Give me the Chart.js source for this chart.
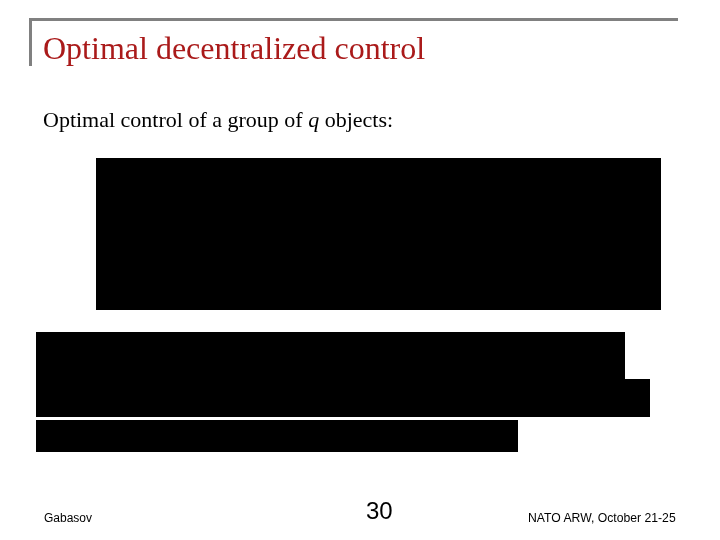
<!DOCTYPE html>
<html>
<head>
<meta charset="utf-8">
<script src="https://cdn.jsdelivr.net/npm/chart.js@4"></script>
<style>
  html, body { margin: 0; padding: 0; background: #ffffff; }
  #wrap { position: relative; width: 720px; height: 540px; overflow: hidden; }
  #c { position: absolute; left: 0; top: 0; }
  .t { position: absolute; white-space: nowrap; line-height: 1; }
  #title { left: 43px; top: 30px; font: 32px "Liberation Serif", "Times New Roman", serif; color: #aa1a1a; }
  #sub { left: 43px; top: 107px; font: 22px "Liberation Serif", "Times New Roman", serif; color: #000; }
  #left { left: 44px; top: 511px; font: 12px "Liberation Sans", Arial, sans-serif; color: #000; }
  #page { left: 366px; top: 497px; font: 24px "Liberation Sans", Arial, sans-serif; color: #000; }
  #right { left: 528px; top: 511px; font: 12.2px "Liberation Sans", Arial, sans-serif; color: #000; }
</style>
</head>
<body>
<div id="wrap">
  <canvas id="c" width="720" height="540"></canvas>
  <div class="t" id="title">Optimal decentralized control</div>
  <div class="t" id="sub">Optimal control of a group of <i>q</i> objects:</div>
  <div class="t" id="left">Gabasov</div>
  <div class="t" id="page">30</div>
  <div class="t" id="right">NATO ARW, October 21-25</div>
</div>
<script>
// Black content blocks on the slide (slide units, 720 x 540)
const blockNames  = ["system", "criterion", "criterionTail", "constraint"];
const blockLeft   = [96, 36, 625, 36];
const blockRight  = [661, 625, 650, 518];
const blockTop    = [158, 332, 379, 420];
const blockBottom = [310, 417, 417, 452];

// Title frame rules (slide units)
const ruleNames = ["top rule", "side rule"];
const ruleX1 = [29, 30.5];
const ruleX2 = [678, 30.5];
const ruleY1 = [19.5, 18];
const ruleY2 = [19.5, 66];

const datasets = [];
blockNames.forEach((name, i) => {
  datasets.push({
    label: name + " top",
    data: [{x: blockLeft[i], y: blockTop[i]}, {x: blockRight[i], y: blockTop[i]}],
    showLine: true, borderWidth: 0, pointRadius: 0,
    borderColor: "#000000", backgroundColor: "#000000",
    fill: "+1"
  });
  datasets.push({
    label: name + " bottom",
    data: [{x: blockLeft[i], y: blockBottom[i]}, {x: blockRight[i], y: blockBottom[i]}],
    showLine: true, borderWidth: 0, pointRadius: 0,
    borderColor: "#000000", backgroundColor: "#000000",
    fill: false
  });
});
ruleNames.forEach((name, i) => {
  datasets.push({
    label: name,
    data: [{x: ruleX1[i], y: ruleY1[i]}, {x: ruleX2[i], y: ruleY2[i]}],
    showLine: true, borderWidth: 3, pointRadius: 0,
    borderColor: "#808080", backgroundColor: "#808080",
    fill: false, borderCapStyle: "butt"
  });
});

new Chart(document.getElementById("c"), {
  type: "scatter",
  data: { datasets },
  options: {
    responsive: false,
    animation: false,
    layout: { padding: 0 },
    plugins: { legend: { display: false }, tooltip: { enabled: false }, title: { display: false } },
    scales: {
      x: { type: "linear", min: 0, max: 720, display: false },
      y: { type: "linear", min: 0, max: 540, reverse: true, display: false }
    }
  }
});
</script>
</body>
</html>
